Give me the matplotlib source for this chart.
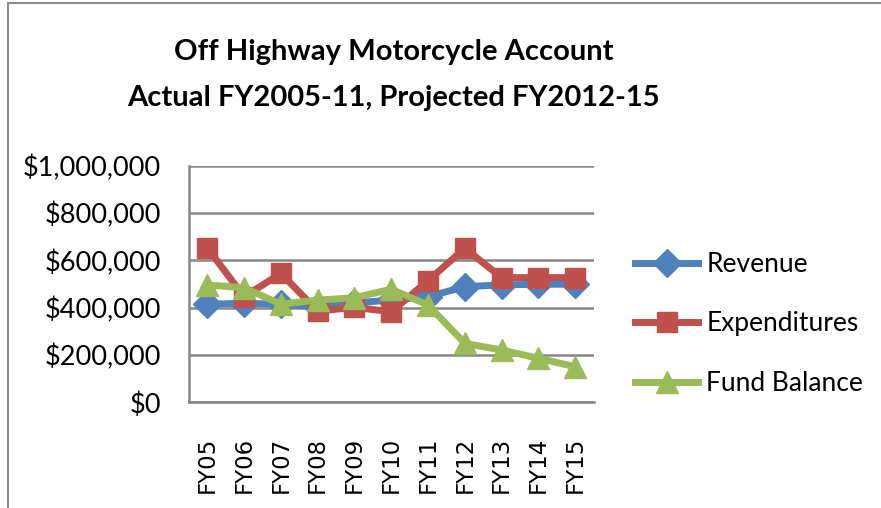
import matplotlib
matplotlib.use('Agg')
import matplotlib.pyplot as plt
from matplotlib.patches import Rectangle
from matplotlib.ticker import FuncFormatter

# data
years = ['FY05', 'FY06', 'FY07', 'FY08', 'FY09', 'FY10', 'FY11', 'FY12', 'FY13', 'FY14', 'FY15']
revenue = [415000, 418000, 415000, 404000, 420000, 432000, 446000, 489000, 496000, 499000, 499000]
expenditures = [653000, 446000, 545000, 386000, 401000, 383000, 514000, 651000, 527000, 527000, 527000]
fund_balance = [496000, 484000, 415000, 432000, 442000, 478000, 411000, 249000, 221000, 186000, 150000]

plt.rcParams['font.family'] = ['Lato', 'DejaVu Sans']

fig = plt.figure(figsize=(8.81, 5.08), dpi=100)
ax = fig.add_axes([0.2144, 0.2081, 0.4594, 0.4657])

x = list(range(len(years)))
ax.plot(x, revenue, color='#4F81BD', lw=5, marker='D', ms=14, label='Revenue')
ax.plot(x, expenditures, color='#C0504D', lw=5, marker='s', ms=14.5, label='Expenditures')
ax.plot(x, fund_balance, color='#9BBB59', lw=5, marker='^', ms=16, label='Fund Balance')

ax.set_xlim(-0.5, len(years) - 0.5)
ax.set_ylim(0, 1000000)
ax.set_yticks(range(0, 1000001, 200000))
ax.yaxis.set_major_formatter(FuncFormatter(lambda v, p: f'${v:,.0f}'))
ax.grid(axis='y', color='#868686', lw=1.8)
ax.set_axisbelow(True)
ax.set_xticks(x)
ax.set_xticklabels(years)
ax.tick_params(axis='x', length=0, pad=25, labelrotation=90, labelsize=16.5,
               labelfontfamily='DejaVu Sans')
ax.tick_params(axis='y', length=0, pad=20, labelsize=19.5)
for s in ['top', 'right']:
    ax.spines[s].set_visible(False)
for s in ['left', 'bottom']:
    ax.spines[s].set_color('#868686')
    ax.spines[s].set_linewidth(1.8)

fig.text(0.447, 0.852, 'Off Highway Motorcycle Account\nActual FY2005-11, Projected FY2012-15',
         ha='center', va='center', fontsize=21, fontweight='bold', linespacing=1.95)

ax.legend(loc='center left', bbox_to_anchor=(1.102, 0.331), frameon=False, fontsize=19,
          handlelength=2.4, labelspacing=1.3, handletextpad=0.3,
          borderpad=0, borderaxespad=0)

# chart border on left and top
fig.add_artist(Rectangle((0.009, -0.05), 1.2, 1.044, transform=fig.transFigure,
                         fill=False, edgecolor='#8c8c8c', lw=1.5))

fig.savefig('out.png', dpi=100)
